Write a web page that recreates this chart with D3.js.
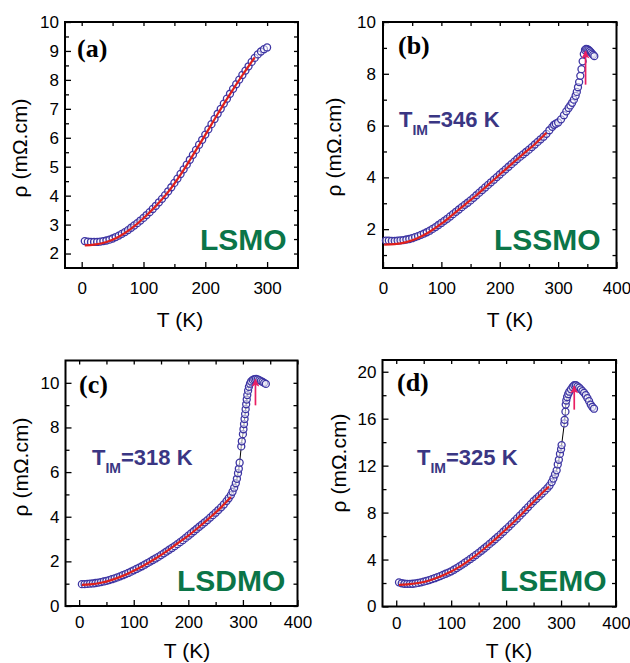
<!DOCTYPE html>
<html><head><meta charset="utf-8">
<script src="https://cdn.jsdelivr.net/npm/d3@7"></script>
<style>body{margin:0;background:#fff;} svg{display:block;}</style>
</head><body><svg id="c" width="630" height="663"></svg>
<script>
// ---------- data ----------
// (a) LSMO
const tA=[5,10,15,20,25,30,35,40,45,50,55,60,65,70,75,80,85,90,95,100,105,110,115,120,125,130,135,140,145,150,155,160,165,170,175,180,185,190,195,200,205,210,215,220,225,230,235,240,245,250,255,260,265,270,275,280,285,290,295,300];
const rhoA=[2.43,2.41,2.40,2.40,2.40,2.41,2.43,2.45,2.48,2.52,2.57,2.62,2.68,2.74,2.81,2.89,2.97,3.05,3.14,3.23,3.33,3.43,3.54,3.65,3.77,3.89,4.02,4.15,4.29,4.44,4.59,4.75,4.91,5.07,5.24,5.41,5.58,5.76,5.93,6.11,6.29,6.47,6.65,6.83,7.00,7.18,7.35,7.52,7.69,7.85,8.01,8.17,8.32,8.47,8.62,8.76,8.88,8.98,9.06,9.12];
const fitTA=[5,20,40,60,80,100,120,140,160,180,200,220,240,260,280];
const fitRhoA=[2.28,2.31,2.40,2.58,2.86,3.22,3.64,4.13,4.73,5.40,6.10,6.82,7.51,8.16,8.78];

// (b) LSSMO
const tB=[5,10,15,20,25,30,35,40,45,50,55,60,65,70,75,80,85,90,95,100,105,110,115,120,125,130,135,140,145,150,155,160,165,170,175,180,185,190,195,200,205,210,215,220,225,230,235,240,245,250,255,260,265,270,275,280,285,290,293,296,300,305,310,314,318,321,324,327,330,332,334,336,338,340,342,344,346,348,350,352,354,356,358,360,362];
const rhoB=[1.56,1.56,1.55,1.55,1.56,1.57,1.58,1.60,1.62,1.65,1.69,1.73,1.78,1.83,1.88,1.94,2.01,2.08,2.16,2.24,2.32,2.40,2.49,2.58,2.67,2.76,2.85,2.94,3.02,3.11,3.21,3.31,3.41,3.51,3.61,3.71,3.81,3.91,4.01,4.11,4.21,4.31,4.41,4.51,4.61,4.71,4.80,4.89,4.98,5.07,5.17,5.27,5.37,5.47,5.57,5.68,5.82,5.95,6.03,6.07,6.12,6.24,6.40,6.55,6.68,6.78,6.88,7.00,7.15,7.30,7.48,7.68,7.92,8.18,8.48,8.76,8.92,8.96,8.95,8.92,8.88,8.83,8.78,8.73,8.68];
const fitTB=[2,20,40,60,80,100,120,140,160,180,200,220,240,260,280];
const fitRhoB=[1.40,1.42,1.50,1.66,1.90,2.21,2.57,2.94,3.31,3.71,4.11,4.51,4.90,5.28,5.72];

// (c) LSDMO
const tC=[5,10,15,20,25,30,35,40,45,50,55,60,65,70,75,80,85,90,95,100,105,110,115,120,125,130,135,140,145,150,155,160,165,170,175,180,185,190,195,200,205,210,215,220,225,230,235,240,245,250,255,260,265,270,274,278,281,284,287,289,291,292.5,294,297,298,300,301,302,303,304,305,306,307,308,309.5,311,313,315,318,321,324,327,330,333,336,339,342];
const rhoC=[0.98,0.98,0.99,1.00,1.01,1.03,1.05,1.07,1.10,1.13,1.16,1.20,1.24,1.28,1.33,1.38,1.43,1.48,1.54,1.60,1.66,1.72,1.78,1.85,1.92,1.99,2.06,2.13,2.20,2.28,2.36,2.44,2.52,2.60,2.68,2.77,2.86,2.95,3.05,3.15,3.25,3.35,3.45,3.55,3.65,3.75,3.85,3.96,4.07,4.18,4.30,4.42,4.55,4.70,4.83,4.97,5.12,5.30,5.50,5.70,5.95,6.15,6.42,7.15,7.38,7.70,7.92,8.15,8.38,8.60,8.82,9.04,9.25,9.45,9.65,9.82,9.96,10.06,10.13,10.16,10.17,10.15,10.12,10.08,10.04,10.00,9.95];
const fitTC=[5,20,40,60,80,100,120,140,160,180,200,220,240,260,278];
const fitRhoC=[0.95,0.97,1.04,1.17,1.35,1.58,1.84,2.13,2.45,2.80,3.15,3.55,3.97,4.42,4.88];

// (d) LSEMO
const tD=[5,10,15,20,25,30,35,40,45,50,55,60,65,70,75,80,85,90,95,100,105,110,115,120,125,130,135,140,145,150,155,160,165,170,175,180,185,190,195,200,205,210,215,220,225,230,235,240,245,250,255,260,265,270,275,279,283,286,289,292,294,296,298,300,301,306,306.5,308,308.5,309.5,311,313,315,318,321,324,327,330,333,336,339,342,345,348,351,354,357,360];
const rhoD=[2.06,1.98,1.94,1.93,1.93,1.94,1.97,2.01,2.06,2.12,2.18,2.25,2.33,2.41,2.50,2.59,2.69,2.79,2.89,3.00,3.13,3.27,3.42,3.57,3.73,3.89,4.05,4.22,4.39,4.57,4.75,4.94,5.13,5.33,5.53,5.73,5.94,6.15,6.37,6.59,6.81,7.04,7.27,7.50,7.74,7.98,8.22,8.47,8.72,8.97,9.18,9.40,9.62,9.85,10.08,10.30,10.60,10.90,11.25,11.60,12.10,12.50,13.00,13.40,13.75,15.60,15.90,16.60,17.20,17.55,17.85,18.10,18.30,18.50,18.70,18.85,18.85,18.75,18.65,18.50,18.35,18.20,18.00,17.75,17.50,17.20,17.00,16.85];
const fitTD=[5,20,40,60,80,100,120,140,160,180,200,220,240,260,278];
const fitRhoD=[1.85,1.88,2.00,2.22,2.56,2.98,3.52,4.18,4.92,5.72,6.58,7.48,8.44,9.40,10.22];

// T_IM arrows (T, rho start, rho tip)
const arrowB=[347,7.58,8.87];
const arrowC=[323,8.99,10.15];
const arrowD=[324,16.77,18.77];

// ticks
const xMajorA=[0,100,200,300], xMinorA=[50,150,250];
const yMajorA=[2,3,4,5,6,7,8,9,10], yMinorA=[2.5,3.5,4.5,5.5,6.5,7.5,8.5,9.5];
const xMajorB=[0,100,200,300,400], xMinorB=[50,150,250,350];
const yMajorB=[2,4,6,8,10], yMinorB=[1,3,5,7,9];
const xMajorC=[0,100,200,300,400], xMinorC=[50,150,250,350];
const yMajorC=[0,2,4,6,8,10], yMinorC=[1,3,5,7,9];
const xMajorD=[0,100,200,300,400], xMinorD=[50,150,250,350];
const yMajorD=[0,4,8,12,16,20], yMinorD=[2,6,10,14,18];

const panelLetters=['(a)','(b)','(c)','(d)'];
const sampleNames=['LSMO','LSSMO','LSDMO','LSEMO'];
const tim=[null,'346','318','325'];

// ---------- layout ----------
const SANS="'Liberation Sans', Arial, Helvetica, sans-serif";
const SERIF="'Liberation Serif', 'Times New Roman', serif";
const COL_PT='#3d35a3', COL_FIT='#e0201b', COL_ARR='#ea1f63', COL_GREEN='#0b7548', COL_TIM='#3a3683';

const panels=[
 {T:tA,R:rhoA,fT:fitTA,fR:fitRhoA,arrow:null,join:false,L:65,Rr:298,Tp:22,B:268,xDom:[-27,350],yDom:[1.5,10],
  xMaj:xMajorA,xMin:xMinorA,yMaj:yMajorA,yMin:yMinorA,xPad:14,yPad:6,
  xtX:180,xtY:327,ytX:27,ytY:148,letX:77,letY:57,nameX:200,nameY:250,timX:null,timY:null},
 {T:tB,R:rhoB,fT:fitTB,fR:fitRhoB,arrow:arrowB,join:false,L:383,Rr:616.5,Tp:22,B:268,xDom:[0,400],yDom:[0.5,10],
  xMaj:xMajorB,xMin:xMinorB,yMaj:yMajorB,yMin:yMinorB,xPad:14,yPad:7,
  xtX:510,xtY:327,ytX:341,ytY:147,letX:398,letY:54,nameX:494,nameY:250,timX:399,timY:126.5},
 {T:tC,R:rhoC,fT:fitTC,fR:fitRhoC,arrow:arrowC,join:true,L:65.5,Rr:297.5,Tp:360.5,B:606,xDom:[-25,400],yDom:[0,11],
  xMaj:xMajorC,xMin:xMinorC,yMaj:yMajorC,yMin:yMinorC,xPad:10,yPad:6,
  xtX:187,xtY:658,ytX:28,ytY:467,letX:79,letY:393,nameX:177,nameY:591,timX:92,timY:465},
 {T:tD,R:rhoD,fT:fitTD,fR:fitRhoD,arrow:arrowD,join:true,L:382.5,Rr:616,Tp:360,B:606.5,xDom:[-25,400],yDom:[0,21],
  xMaj:xMajorD,xMin:xMinorD,yMaj:yMajorD,yMin:yMinorD,xPad:10,yPad:6,
  xtX:509,xtY:658,ytX:346,ytY:463,letX:397,letY:391,nameX:500,nameY:591,timX:417,timY:465}
];

const svg=d3.select('#c');
const defs=svg.append('defs');
defs.append('marker').attr('id','ah').attr('viewBox','0 0 10 10').attr('refX',9).attr('refY',5)
  .attr('markerWidth',10).attr('markerHeight',8).attr('markerUnits','userSpaceOnUse').attr('orient','auto')
  .append('path').attr('d','M0,0 L10,5 L0,10 L2.5,5 Z').attr('fill',COL_ARR);

panels.forEach((p,i)=>{
  const x=d3.scaleLinear().domain(p.xDom).range([p.L,p.Rr]);
  const y=d3.scaleLinear().domain(p.yDom).range([p.B,p.Tp]);
  const g=svg.append('g');

  const style=sel=>{sel.select('.domain').remove();
    sel.selectAll('line').attr('stroke','#000').attr('stroke-width',1.3);
    sel.selectAll('text').attr('font-family',SANS).attr('font-size',17).attr('fill','#000');
    sel.attr('font-family',null).attr('font-size',null);};

  g.append('g').attr('transform',`translate(0,${p.B})`)
   .call(d3.axisBottom(x).tickValues(p.xMaj).tickSize(-6).tickPadding(p.xPad).tickFormat(d3.format('d'))).call(style);
  g.append('g').attr('transform',`translate(0,${p.B})`)
   .call(d3.axisBottom(x).tickValues(p.xMin).tickSize(-4).tickFormat('')).call(style);
  g.append('g').attr('transform',`translate(0,${p.Tp})`)
   .call(d3.axisTop(x).tickValues(p.xMaj.concat(p.xMin)).tickSize(-4).tickFormat('')).call(style);
  g.append('g').attr('transform',`translate(${p.L},0)`)
   .call(d3.axisLeft(y).tickValues(p.yMaj).tickSize(-6).tickPadding(p.yPad).tickFormat(d3.format('~g'))).call(style);
  g.append('g').attr('transform',`translate(${p.L},0)`)
   .call(d3.axisLeft(y).tickValues(p.yMin).tickSize(-4).tickFormat('')).call(style);
  g.append('g').attr('transform',`translate(${p.Rr},0)`)
   .call(d3.axisRight(y).tickValues(p.yMaj.concat(p.yMin)).tickSize(-4).tickFormat('')).call(style);

  g.append('rect').attr('x',p.L).attr('y',p.Tp).attr('width',p.Rr-p.L).attr('height',p.B-p.Tp)
   .attr('fill','none').attr('stroke','#000').attr('stroke-width',2);

  const pts=d3.zip(p.T,p.R);
  if(p.join){
    g.append('path').datum(pts).attr('d',d3.line().x(d=>x(d[0])).y(d=>y(d[1])))
     .attr('fill','none').attr('stroke','#000').attr('stroke-width',1);
  }
  g.append('g').selectAll('circle').data(pts).join('circle')
   .attr('cx',d=>x(d[0])).attr('cy',d=>y(d[1])).attr('r',3.5)
   .attr('fill','rgba(255,255,255,0.55)').attr('stroke',COL_PT).attr('stroke-width',1.3);

  g.append('path').datum(d3.zip(p.fT,p.fR))
   .attr('d',d3.line().curve(d3.curveMonotoneX).x(d=>x(d[0])).y(d=>y(d[1])))
   .attr('fill','none').attr('stroke',COL_FIT).attr('stroke-width',2.2);

  if(p.arrow){
    g.append('line').attr('x1',x(p.arrow[0])).attr('x2',x(p.arrow[0]))
     .attr('y1',y(p.arrow[1])).attr('y2',y(p.arrow[2]))
     .attr('stroke',COL_ARR).attr('stroke-width',1.7).attr('marker-end','url(#ah)');
  }

  g.append('text').attr('x',p.xtX).attr('y',p.xtY).attr('text-anchor','middle')
   .attr('font-family',SANS).attr('font-size',21).text('T (K)');
  g.append('text').attr('transform',`translate(${p.ytX},${p.ytY}) rotate(-90)`).attr('text-anchor','middle')
   .attr('font-family',SANS).attr('font-size',21).text('ρ (mΩ.cm)');
  g.append('text').attr('x',p.letX).attr('y',p.letY).attr('font-family',SERIF).attr('font-weight','bold')
   .attr('font-size',26).text(panelLetters[i]);
  g.append('text').attr('x',p.nameX).attr('y',p.nameY).attr('font-family',SANS).attr('font-weight','bold')
   .attr('font-size',30).attr('fill',COL_GREEN).text(sampleNames[i]);
  if(tim[i]){
    const t=g.append('text').attr('x',p.timX).attr('y',p.timY).attr('font-family',SANS).attr('font-weight','bold')
     .attr('font-size',22).attr('fill',COL_TIM);
    t.append('tspan').text('T');
    t.append('tspan').attr('dy',8).attr('font-size',14).text('IM');
    t.append('tspan').attr('dy',-8).text('='+tim[i]+' K');
  }
});
</script></body></html>
